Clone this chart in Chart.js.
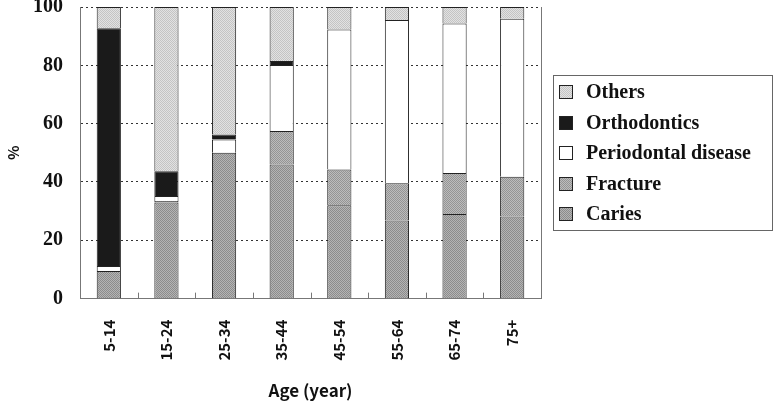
<!DOCTYPE html>
<html>
<head>
<meta charset="utf-8">
<script src="https://cdn.jsdelivr.net/npm/chart.js@4.4.1/dist/chart.umd.min.js"></script>
<style>
  body { margin: 0; background: #fff; }
  #wrap { width: 778px; height: 402px; }
</style>
</head>
<body>
<div id="wrap"><canvas id="myChart"></canvas></div>
<script>
const ageGroups = ['5-14', '15-24', '25-34', '35-44', '45-54', '55-64', '65-74', '75+'];
const caries = [9.5, 33, 50, 46, 32, 26.8, 29, 28.2];
const fracture = [0, 0.5, 0, 11.5, 12.3, 12.8, 14.1, 13.6];
const periodontal = [1.7, 1.7, 4.6, 22.6, 48, 55.9, 51.2, 54.2];
const orthodontics = [81.5, 8.5, 1.7, 1.4, 0, 0, 0, 0];
const others = [7.3, 56.3, 43.7, 18.5, 7.7, 4.5, 5.7, 4.0];
const yTicks = [0, 20, 40, 60, 80, 100];

// stipple fill like the printed figure
function stipple(c1, c2) {
  const cv = document.createElement('canvas');
  cv.width = 2; cv.height = 2;
  const g = cv.getContext('2d');
  g.fillStyle = c1; g.fillRect(0, 0, 2, 2);
  g.fillStyle = c2; g.fillRect(0, 0, 1, 1); g.fillRect(1, 1, 1, 1);
  return g.createPattern(cv, 'repeat');
}

const frame = {
  id: 'frame',
  afterDraw(chart) {
    const ctx = chart.ctx;
    const a = chart.chartArea;
    const x = chart.scales.x;
    ctx.save();
    ctx.strokeStyle = '#777';
    ctx.lineWidth = 1;
    ctx.beginPath();
    ctx.moveTo(a.right + 0.5, a.top);
    ctx.lineTo(a.right + 0.5, a.bottom);
    // small inward ticks between categories
    for (let i = 1; i < ageGroups.length; i++) {
      const px = Math.round((x.getPixelForTick(i - 1) + x.getPixelForTick(i)) / 2) + 0.5;
      ctx.moveTo(px, a.bottom);
      ctx.lineTo(px, a.bottom - 6);
    }
    ctx.stroke();

    // legend (the built-in one gets squeezed to half the free width)
    const items = Chart.defaults.plugins.legend.labels.generateLabels(chart).reverse();
    const step = 30.5;
    const boxW = 219, boxH = 155;
    const left = Math.round(a.right + 12);
    const top = Math.round((a.top + a.bottom) / 2 - boxH / 2);
    ctx.strokeStyle = '#666';
    ctx.strokeRect(left + 0.5, top + 0.5, boxW, boxH);
    ctx.font = 'bold 20px "Liberation Serif"';
    ctx.textBaseline = 'middle';
    ctx.textAlign = 'left';
    items.forEach((it, i) => {
      const cy = Math.round(top + 17 + i * step);
      ctx.fillStyle = it.fillStyle;
      ctx.fillRect(left + 6, cy - 7, 14, 14);
      ctx.strokeStyle = '#222';
      ctx.strokeRect(left + 6.5, cy - 6.5, 13, 13);
      ctx.fillStyle = '#111';
      ctx.fillText(it.text, left + 33, cy + 1);
    });
    ctx.restore();
  }
};

const ctx = document.getElementById('myChart');
const myChart = new Chart(ctx, {
  type: 'bar',
  data: {
    labels: ageGroups,
    datasets: [
      { label: 'Caries', data: caries, backgroundColor: stipple('#b4b4b4', '#8c8c8c') },
      { label: 'Fracture', data: fracture, backgroundColor: stipple('#bcbcbc', '#949494') },
      { label: 'Periodontal disease', data: periodontal, backgroundColor: '#ffffff' },
      { label: 'Orthodontics', data: orthodontics, backgroundColor: '#1a1a1a' },
      { label: 'Others', data: others, backgroundColor: stipple('#e2e2e2', '#c4c4c4') }
    ].map(d => Object.assign(d, {
      borderColor: '#222',
      borderWidth: { top: 1, left: 1, right: 1, bottom: 0 },
      borderSkipped: false,
      barPercentage: 0.42,
      categoryPercentage: 1.0
    }))
  },
  options: {
    responsive: true,
    maintainAspectRatio: false,
    animation: false,
    layout: { padding: { left: 4, right: 237, top: 7, bottom: 1 } },
    plugins: {
      tooltip: { enabled: false },
      legend: { display: false }
    },
    scales: {
      x: {
        stacked: true,
        afterFit: axis => { axis.paddingTop = 0; axis.paddingBottom = 0; },
        grid: { display: false },
        border: { color: '#777', width: 1 },
        ticks: {
          minRotation: 90,
          maxRotation: 90,
          padding: 13,
          color: '#111',
          font: { family: 'Noto Sans CJK JP', weight: 'bold', size: 15 }
        },
        title: {
          display: true,
          text: 'Age (year)',
          color: '#111',
          padding: { top: 7, bottom: 0 },
          font: { family: 'Noto Sans CJK JP', weight: 'bold', size: 17 }
        }
      },
      y: {
        stacked: true,
        min: 0,
        max: 100,
        afterBuildTicks: axis => { axis.ticks = yTicks.map(v => ({ value: v })); },
        afterFit: axis => { axis.width = 76; axis.paddingTop = 0; axis.paddingBottom = 0; },
        grid: { color: '#333', drawTicks: false },
        border: { color: '#777', width: 1, dash: [2, 3], display: true },
        ticks: {
          padding: 17,
          color: '#111',
          font: { family: 'Liberation Serif', weight: 'bold', size: 20 }
        },
        title: {
          display: true,
          text: '%',
          color: '#111',
          padding: { top: 0, bottom: 8 },
          font: { family: 'Noto Sans CJK JP', weight: 'bold', size: 15 }
        }
      }
    }
  },
  plugins: [frame]
});
</script>
</body>
</html>
